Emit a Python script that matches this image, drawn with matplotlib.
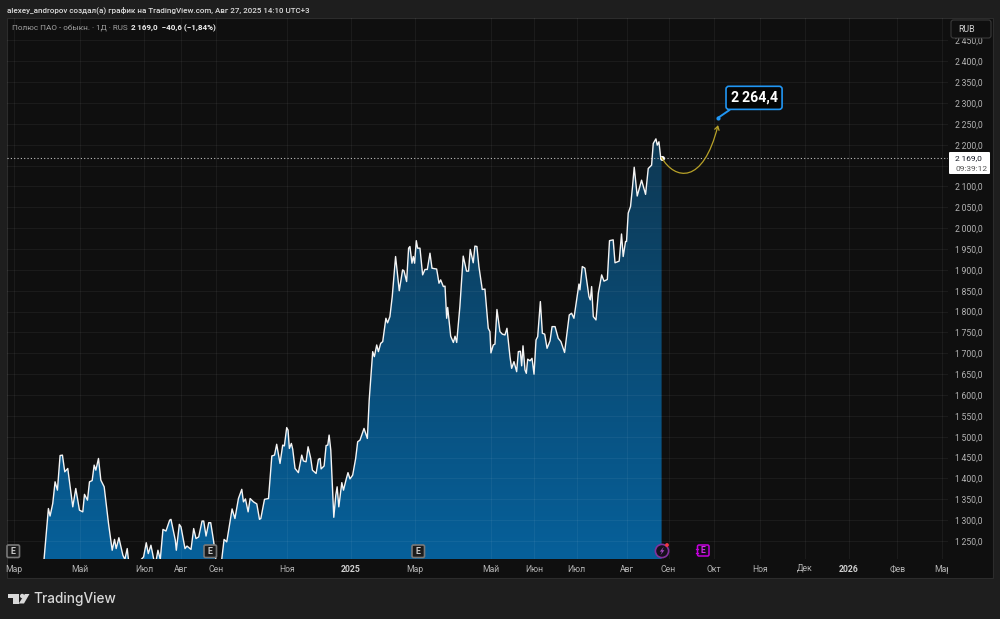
import numpy as np
import matplotlib
matplotlib.use('Agg')
import matplotlib.pyplot as plt
from matplotlib.colors import LinearSegmentedColormap
from matplotlib.patches import FancyBboxPatch, FancyArrowPatch, Rectangle, Circle, Polygon
from matplotlib.path import Path
from matplotlib.transforms import ScaledTranslation

plt.rcParams['font.family'] = ['Roboto', 'DejaVu Sans']

# session number and closing price, daily line of the stock
sessions = [
    16.6, 18.0, 20.6, 21.6, 23.2, 24.6, 26.0, 27.6, 29.0, 30.4, 32.2, 35.2, 37.0, 39.2, 41.2, 42.2,
    44.0, 45.2, 46.8, 48.0, 49.0, 50.6, 52.0, 54.0, 56.6, 58.8, 60.2, 61.2, 62.8, 65.2, 66.4, 67.8,
    68.8, 71.6, 74.6, 76.2, 77.6, 79.2, 80.4, 82.0, 83.6, 84.6, 86.2, 87.6, 89.2, 91.0, 93.2, 94.0,
    96.6, 97.2, 99.0, 100.0, 102.4, 103.6, 106.0, 107.6, 109.0, 110.6, 112.6, 113.6, 115.0, 116.6,
    117.8, 119.6, 120.6, 122.0, 124.4, 125.8, 127.4, 130.6, 132.3, 134.4, 136.4, 137.4, 138.6, 140.2,
    141.4, 143.4, 145.4, 147.0, 147.8, 150.0, 152.4, 154.4, 156.0, 157.3, 159.3, 160.9, 161.9, 163.3,
    164.1, 164.9, 166.1, 166.9, 168.3, 170.3, 172.3, 173.3, 174.9, 176.1, 177.7, 178.7, 180.9, 182.3,
    183.3, 183.9, 185.7, 186.9, 187.9, 188.7, 189.7, 191.5, 192.7, 193.5, 194.5, 196.3, 197.3, 198.9,
    200.0, 201.2, 202.8, 204.6, 205.8, 207.2, 209.6, 211.6, 212.7, 214.8, 215.8, 217.2, 218.2, 219.6,
    220.8, 222.7, 223.7, 225.1, 226.5, 228.5, 230.7, 232.7, 233.5, 235.1, 236.3, 237.1, 238.3, 239.1,
    239.9, 240.9, 241.7, 243.1, 244.7, 246.1, 247.5, 249.1, 250.3, 253.1, 254.5, 255.5, 257.1, 258.1,
    259.1, 259.7, 261.5, 263.1, 264.1, 265.1, 267.0, 269.0, 271.0, 272.2, 273.2, 275.0, 276.0, 277.2,
    278.4, 280.4, 282.0, 284.0, 285.0, 285.6, 287.0, 288.0, 289.2, 291.0, 292.4, 294.0, 295.2, 297.0,
    298.0, 299.4, 301.0, 302.0, 303.2, 304.0, 304.8, 306.0, 306.8, 307.6, 309.0, 310.2, 311.4, 312.6,
    313.6, 315.2, 316.4, 317.8, 319.2, 321.0, 322.2, 324.0, 325.9, 327.5, 329.7, 332.5, 333.9, 335.3,
    338.3, 338.9, 340.3, 341.9, 344.3, 345.1, 345.9, 346.9, 348.5, 349.9, 351.9, 353.3, 355.3, 356.6,
    358.8, 359.9, 362.4, 363.8, 364.8, 366.2, 366.8, 367.8, 369.2, 370.4, 371.4, 373.2, 375.8, 378.2,
    379.8, 381.8, 382.8, 384.4, 385.2, 386.2, 387.2, 387.8,
]
closes = [
    1156, 1207, 1328, 1310, 1340, 1392, 1372, 1455, 1456, 1416, 1424, 1332, 1376, 1324, 1320, 1362,
    1348, 1392, 1395, 1432, 1420, 1448, 1396, 1380, 1292, 1228, 1254, 1232, 1258, 1216, 1206, 1232,
    1196, 1156, 1172, 1206, 1212, 1246, 1220, 1240, 1208, 1192, 1228, 1206, 1278, 1274, 1300, 1302,
    1252, 1228, 1290, 1284, 1232, 1238, 1230, 1280, 1256, 1260, 1298, 1298, 1262, 1294,
    1294, 1248, 1216, 1150, 1206, 1254, 1248, 1327, 1304, 1352, 1374, 1344, 1351, 1320,
    1352, 1344, 1339, 1302, 1304, 1350, 1352, 1454, 1456, 1482, 1436, 1480, 1478, 1522,
    1516, 1472, 1484, 1470, 1424, 1414, 1456, 1442, 1440, 1476, 1448, 1420, 1412, 1446,
    1448, 1423, 1430, 1479, 1480, 1504, 1468, 1307, 1360, 1380, 1332, 1390, 1372, 1398,
    1414, 1399, 1408, 1448, 1488, 1492, 1520, 1496, 1588, 1704, 1692, 1720, 1704, 1724,
    1728, 1784, 1773, 1788, 1836, 1932, 1850, 1900, 1898, 1872, 1952, 1956, 1916, 1932,
    1916, 1970, 1952, 1952, 1888, 1901, 1901, 1940, 1904, 1902, 1868, 1876, 1860, 1861,
    1784, 1810, 1741, 1726, 1741, 1726, 1812, 1933, 1897, 1897, 1949, 1917, 1957, 1956,
    1908, 1853, 1854, 1760, 1752, 1701, 1720, 1722, 1805, 1752, 1746, 1744, 1760, 1692,
    1664, 1680, 1656, 1704, 1705, 1670, 1718, 1660, 1652, 1686, 1682, 1688, 1650, 1732,
    1740, 1824, 1748, 1746, 1712, 1730, 1764, 1764, 1736, 1728, 1702, 1792, 1796, 1784,
    1866, 1852, 1908, 1904, 1836, 1828, 1860, 1788, 1780, 1844, 1888, 1873, 1877, 1970,
    1972, 1917, 1921, 1986, 1932, 1968, 1968, 2036, 2052, 2100, 2146, 2077, 2115, 2081,
    2143, 2151, 2203, 2214, 2199, 2207, 2171, 2169,
]

last_price = 2169.0
change = -40.6
change_pct = -1.84
target_session = 421.6
target_price = 2264.4

price_ticks = list(range(1250, 2500, 50))

month_sessions = [0, 39.5, 77.8, 100, 121, 163.5, 201.8, 240, 285.6, 311.3, 337, 367, 392, 419, 447, 473.6, 500, 529, 556]
month_labels = ['Мар', 'Май', 'Июл', 'Авг', 'Сен', 'Ноя', '2025', 'Мар', 'Май', 'Июн', 'Июл', 'Авг', 'Сен', 'Окт',
                'Ноя', 'Дек', '2026', 'Фев', 'Мар']

BG = '#1e1e1e'
PANEL = '#0f0f0f'
AXIS_TEXT = '#b4b4b4'
BLUE = '#2196f3'
THIN = '\u2009'


def ru_price(value):
    whole, frac = f'{abs(value):.1f}'.split('.')
    if len(whole) > 3:
        whole = whole[:-3] + THIN + whole[-3:]
    return f'{whole},{frac}'


def pixel_axes(fig, zorder):
    # full figure axes working in pixels, y going down
    ax = fig.add_axes([0, 0, 1, 1], zorder=zorder)
    ax.set_xlim(0, 1000)
    ax.set_ylim(619, 0)
    ax.axis('off')
    return ax


fig = plt.figure(figsize=(10, 6.19), dpi=100, facecolor=BG)

back = pixel_axes(fig, 0)
back.add_patch(Rectangle((7, 18), 986, 560, fc=PANEL, ec='#2c2c2c', lw=0.8))

ax = fig.add_axes([7 / 1000, 60 / 619, 941 / 1000, 541 / 619], zorder=1)
ax.patch.set_alpha(0)
for s in ax.spines.values():
    s.set_visible(False)

x = np.array(sessions)
y = np.array(closes)
x_min, x_max = -4.19, 559.3
y_min, y_max = 1207.0, 2503.7

# area under the line, gradient clipped to the polygon
poly = ax.fill_between(x, y, y_min, color='none')
cmap = LinearSegmentedColormap.from_list('area', ['#06609a', '#0e3853'])
grad = ax.imshow(np.linspace(0, 1, 256).reshape(-1, 1), cmap=cmap, origin='lower', aspect='auto',
                 extent=[x_min, x_max, y_min, 2215], zorder=1)
grad.set_clip_path(Path(poly.get_paths()[0].vertices), ax.transData)

ax.plot(x, y, color='#f4f4f4', lw=1.0, solid_joinstyle='round', zorder=4)
ax.axhline(last_price, color='#c4c4c4', lw=0.8, ls=(0, (1, 2)), zorder=3)
ax.scatter([x[-1]], [last_price], s=13, color='white', linewidths=0, zorder=5)

ax.set_xlim(x_min, x_max)
ax.set_ylim(y_min, y_max)

ax.set_xticks(month_sessions)
ax.set_xticklabels(month_labels, va='baseline')
ax.set_yticks(price_ticks)
# the 2150 level sits under the last price tag, so it gets no label
ax.set_yticklabels(['' if p == 2150 else ru_price(p) for p in price_ticks])
ax.yaxis.tick_right()
ax.tick_params(axis='both', length=0, labelsize=6.2, colors=AXIS_TEXT)
ax.tick_params(axis='x', pad=9.6)
ax.tick_params(axis='y', pad=5)
ax.grid(True, color='white', alpha=0.05, lw=0.8, zorder=2)
ax.set_axisbelow(False)
for lab in ax.get_xticklabels():
    if lab.get_text() in ('2025', '2026'):
        lab.set_fontweight('bold')
        lab.set_color('#d0d0d0')
    if lab.get_text() == 'Дек':
        # the descender of this letter pushes the baseline down
        lab.set_transform(lab.get_transform() + ScaledTranslation(0, 1.5 / 72, fig.dpi_scale_trans))

# forecast arrow drawn by the author of the idea
arrow_path = Path([(x[-1], last_price), (395.8, 2115), (412.6, 2103), (421.6, 2247)],
                  [Path.MOVETO, Path.CURVE4, Path.CURVE4, Path.CURVE4])
ax.add_patch(FancyArrowPatch(path=arrow_path, arrowstyle='->,head_length=2.6,head_width=1.6', color='#b8a228',
                             lw=0.9, zorder=5))

# target price callout
ax.scatter([target_session], [target_price], s=9, color=BLUE, linewidths=0, zorder=6)
ax.annotate(ru_price(target_price), xy=(target_session, target_price), xytext=(36, 20), textcoords='offset pixels',
            color='white', fontsize=10.2, fontweight='bold', ha='center', va='center', zorder=7,
            bbox=dict(boxstyle='round,pad=0.32,rounding_size=0.2', fc='#050505', ec=BLUE, lw=1.2),
            arrowprops=dict(arrowstyle='-', color=BLUE, lw=1.4, shrinkA=0, shrinkB=0, relpos=(0.14, 0)))

top = pixel_axes(fig, 3)

# cover for the part of the last month label past the plot edge
top.add_patch(Rectangle((948, 560), 44, 17.5, fc=PANEL, ec='none'))

# last price tag and currency button
top.add_patch(FancyBboxPatch((949, 152), 41, 22, boxstyle='round,pad=0,rounding_size=1', fc='white', ec='none'))
top.text(955, 158, ru_price(last_price), color='#131722', fontsize=6.0, va='center', ha='left')
top.text(955, 168.6, '09:39:12', color='#555555', fontsize=6.0, va='center', ha='left')
top.add_patch(FancyBboxPatch((951, 20), 40, 18, boxstyle='round,pad=0,rounding_size=2.5', fc=PANEL, ec='#3a3a3a', lw=0.8))
top.text(958, 29.5, 'RUB', color='#d0d0d0', fontsize=6.3, va='center', ha='left')

# earnings markers
for cx in (13, 210, 418):
    top.add_patch(FancyBboxPatch((cx - 6, 545), 12.5, 12.5, boxstyle='round,pad=0,rounding_size=1.5',
                                 fc='#1b1b1b', ec='#787878', lw=1.2))
    top.text(cx + 0.2, 551.5, 'E', color='#c8c8c8', fontsize=6.4, fontweight='bold', ha='center', va='center')

top.add_patch(FancyBboxPatch((697.5, 545), 11.5, 11, boxstyle='round,pad=0,rounding_size=1.5', fc='#170c1c', ec='#c400dc', lw=1.1))
top.text(703.3, 550.8, 'E', color='#d62ce8', fontsize=6.2, fontweight='bold', ha='center', va='center')
top.plot([695.5, 698], [549, 549], color='#c400dc', lw=0.9)
top.plot([695.5, 698], [552.5, 552.5], color='#c400dc', lw=0.9)

# dividend style marker with the lightning glyph
top.add_patch(Circle((662, 551), 6.6, fc='#17101c', ec='#83319c', lw=1.2))
top.add_patch(Polygon([(663.8, 546.8), (659.8, 551.6), (662, 551.6), (660.4, 555.2), (664.4, 550.2), (662.2, 550.2)],
                      fc='#a44ac0', ec='none'))
top.add_patch(Circle((667, 545), 1.9, fc='#f23645', ec='none'))

# header lines
top.text(7, 10, 'alexey_andropov создал(а) график на TradingView.com, Авг 27, 2025 14:10 UTC+3',
         color='#dcdcdc', fontsize=5.75, fontweight='medium', va='center', ha='left')
top.text(12, 28.5, 'Полюс ПАО - обыкн. · 1Д · RUS', color='#a0a0a0', fontsize=5.85, va='center', ha='left')
minus = '\u2212'
top.text(131, 28.5, f'{ru_price(last_price)}  {minus}{abs(change):.1f}'.replace('.', ',')
         + f' ({minus}{abs(change_pct):.2f}%)'.replace('.', ','),
         color='#f0f0f0', fontsize=5.8, fontweight='bold', va='center', ha='left')

# footer logo
logo = '#d9d9d9'
top.add_patch(Polygon([(8, 594), (19, 594), (19, 603.5), (13, 603.5), (13, 597.5), (8, 597.5)], fc=logo, ec='none'))
top.add_patch(Circle((22.2, 596), 2.2, fc=logo, ec='none'))
top.add_patch(Polygon([(24.8, 594), (29.5, 594), (24, 603.5), (18.8, 603.5)], fc=logo, ec='none'))
top.text(33, 599, 'TradingView', color=logo, fontsize=9.8, fontweight='medium', family=['Inter', 'DejaVu Sans'],
         va='center', ha='left')

fig.savefig('out.png', dpi=100, facecolor=BG)
